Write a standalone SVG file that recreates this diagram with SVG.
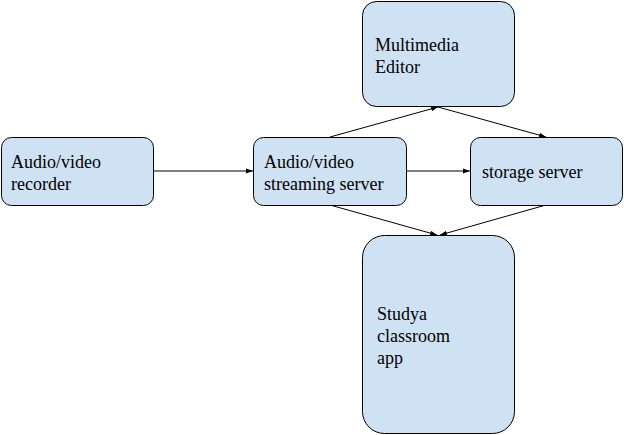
<svg xmlns="http://www.w3.org/2000/svg" width="624" height="435" viewBox="0 0 624 435">
<defs>
<style>
.node{fill:#cfe2f3;stroke:#000;stroke-width:1}
.t{font-family:"Liberation Serif","Times New Roman",serif;font-size:18px;fill:#000}
.c{stroke:#000;stroke-width:1;fill:none;marker-end:url(#ah)}
</style>
<marker id="ah" markerWidth="8" markerHeight="6" refX="7" refY="3" orient="auto" markerUnits="userSpaceOnUse">
<path d="M0,0.5 L7,3 L0,5.5 Z" fill="#000"/>
</marker>
</defs>
<rect width="624" height="435" fill="#fff"/>
<g id="connectors">
<line class="c" x1="154" y1="171" x2="253" y2="171"/>
<line class="c" x1="407" y1="171" x2="470" y2="171"/>
<line class="c" x1="330" y1="137" x2="438" y2="107"/>
<line class="c" x1="438" y1="107" x2="546" y2="137"/>
<line class="c" x1="330" y1="205" x2="437" y2="235"/>
<line class="c" x1="546" y1="205" x2="440" y2="235"/>
</g>
<g id="recorder">
<rect class="node" x="1.5" y="137.5" width="152" height="68" rx="10"/>
<text class="t" x="11" y="168">Audio/video</text>
<text class="t" x="11" y="190">recorder</text>
</g>
<g id="streaming">
<rect class="node" x="253.5" y="137.5" width="153" height="68" rx="10"/>
<text class="t" x="264" y="168">Audio/video</text>
<text class="t" x="264" y="190">streaming server</text>
</g>
<g id="storage">
<rect class="node" x="470.5" y="137.5" width="152" height="68" rx="10"/>
<text class="t" x="482" y="178">storage server</text>
</g>
<g id="editor">
<rect class="node" x="362.5" y="1.5" width="152" height="105" rx="14"/>
<text class="t" x="375" y="51">Multimedia</text>
<text class="t" x="375" y="73">Editor</text>
</g>
<g id="studya">
<rect class="node" x="362.5" y="235.5" width="152" height="198" rx="22"/>
<text class="t" x="377" y="320">Studya</text>
<text class="t" x="377" y="342">classroom</text>
<text class="t" x="377" y="364">app</text>
</g>
</svg>
